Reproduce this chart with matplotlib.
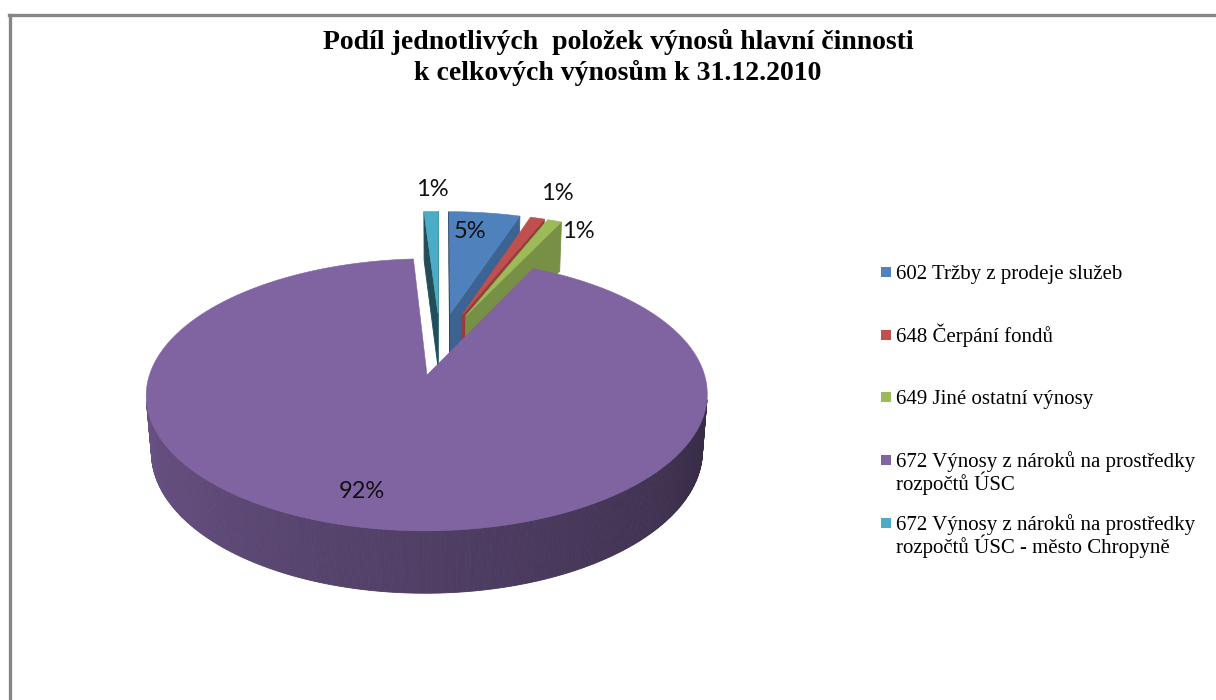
import textwrap
import numpy as np
import matplotlib
matplotlib.use("Agg")
import matplotlib.pyplot as plt
from matplotlib.patches import Polygon, Rectangle
from matplotlib.lines import Line2D
from matplotlib.colors import to_rgb

# ---------------- data ----------------
title_lines = ["Podíl jednotlivých  položek výnosů hlavní činnosti",
               "k celkových výnosům k 31.12.2010"]
categories = ["602 Tržby z prodeje služeb",
              "648 Čerpání fondů",
              "649 Jiné ostatní výnosy",
              "672 Výnosy z nároků na prostředky rozpočtů ÚSC",
              "672 Výnosy z nároků na prostředky rozpočtů ÚSC - město Chropyně"]
values = [5, 1, 1, 92, 1]
colors = ["#4F81BD", "#C0504D", "#9BBB59", "#8064A2", "#4BACC6"]

# ---------------- layout ----------------
W, H = 1216, 700
label_pos = [(470, 232), (557, 193), (578, 232), (362, 492), (432, 190)]
CX, CY = 440.0, 343.5     # projected pie centre (px)
F = 268.0                 # horizontal scale
PHI = np.radians(27.6)    # elevation
D = 6.33                  # camera distance (radius units)
HGT = 0.235               # pie thickness (radius units)
EXPLODE = 0.25

fig = plt.figure(figsize=(W / 100, H / 100), dpi=100)
ax = fig.add_axes([0, 0, 1, 1])
ax.set_xlim(0, W)
ax.set_ylim(H, 0)
ax.axis("off")

c, s = np.cos(PHI), np.sin(PHI)
f = F * D


def proj(X, Y, Z):
    yc = Y * c + Z * s
    zc = D + Z * c - Y * s
    return CX + f * X / zc, CY - f * yc / zc, zc


def shade(col, fac):
    r, g, b = to_rgb(col)
    return (r * fac, g * fac, b * fac)


def visible(nx, nz, px, pz):
    return nx * (0 - px) + nz * (-D * c - pz) > 0


total = float(sum(values))
fracs = np.array(values) / total
ends = np.cumsum(fracs) * 360.0
starts = ends - fracs * 360.0

slices = []
for i in range(len(values)):
    t0, t1 = starts[i], ends[i]
    mid = np.radians((t0 + t1) / 2)
    ox, oz = EXPLODE * np.sin(mid), EXPLODE * np.cos(mid)
    half = np.radians(t1 - t0) / 2
    rc = (2.0 / 3.0) * np.sin(half) / half
    depth = proj(ox + rc * np.sin(mid), 0, oz + rc * np.cos(mid))[2]
    slices.append((depth, i, t0, t1, ox, oz))

slices.sort(key=lambda t: -t[0])

for depth, i, t0, t1, ox, oz in slices:
    col = colors[i]
    n = max(2, int((t1 - t0) / 0.5) + 1)
    arc = np.radians(np.linspace(t0, t1, n))
    walls = []
    # outer wall
    for j in range(n - 1):
        a0, a1 = arc[j], arc[j + 1]
        am = (a0 + a1) / 2
        nx, nz = np.sin(am), np.cos(am)
        if not visible(nx, nz, ox + nx, oz + nz):
            continue
        pts = [proj(ox + np.sin(a0), 0, oz + np.cos(a0)),
               proj(ox + np.sin(a1), 0, oz + np.cos(a1)),
               proj(ox + np.sin(a1), -HGT, oz + np.cos(a1)),
               proj(ox + np.sin(a0), -HGT, oz + np.cos(a0))]
        deg = np.degrees(am) % 360
        fac = 0.40 + 0.45 * np.clip((deg - 90) / 180.0, 0, 1)
        walls.append((np.mean([p[2] for p in pts]), [(p[0], p[1]) for p in pts], shade(col, fac)))
    # radial faces
    for t, sign, fac in ((t0, -1, 0.45), (t1, 1, 0.77)):
        a = np.radians(t)
        nx, nz = sign * np.cos(a), -sign * np.sin(a)
        if not visible(nx, nz, ox + 0.5 * np.sin(a), oz + 0.5 * np.cos(a)):
            continue
        pts = [proj(ox, 0, oz),
               proj(ox + np.sin(a), 0, oz + np.cos(a)),
               proj(ox + np.sin(a), -HGT, oz + np.cos(a)),
               proj(ox, -HGT, oz)]
        walls.append((np.mean([p[2] for p in pts]), [(p[0], p[1]) for p in pts], shade(col, fac)))
    walls.sort(key=lambda w: -w[0])
    for _, verts, wc in walls:
        ax.add_patch(Polygon(verts, closed=True, facecolor=wc, edgecolor=wc, linewidth=0.6))
    # top face
    top = [proj(ox, 0, oz)[:2]] + [proj(ox + np.sin(a), 0, oz + np.cos(a))[:2] for a in arc]
    ax.add_patch(Polygon(top, closed=True, facecolor=col, edgecolor=col, linewidth=0.4))

# percentage labels
for i, v in enumerate(values):
    ax.text(label_pos[i][0], label_pos[i][1], f"{round(100 * v / total)}%",
            ha="center", va="center", fontsize=17, family="Lato", color="#111111")

# title
for k, line in enumerate(title_lines):
    ax.text(618, 49 + 31 * k, line, ha="center", va="baseline", fontsize=20,
            family="Liberation Serif", fontweight="bold", color="#000000")

# legend
for i, lab in enumerate(categories):
    yc = 273 + 62.7 * i
    ax.add_patch(Rectangle((881, yc - 6), 10, 10, facecolor=colors[i], edgecolor="none"))
    for k, line in enumerate(textwrap.wrap(lab, 33)):
        ax.text(896, yc + 6 + 23 * k, line, ha="left", va="baseline", fontsize=15,
                family="Liberation Serif", color="#000000")

# chart border (top and left visible)
fig.add_artist(Line2D([9 / W, 1], [1 - 15 / H, 1 - 15 / H], color="#868686", linewidth=2.4))
fig.add_artist(Line2D([10 / W, 10 / W], [1 - 15 / H, 0], color="#868686", linewidth=2.4))

fig.savefig("out.png", dpi=100, facecolor="white")
